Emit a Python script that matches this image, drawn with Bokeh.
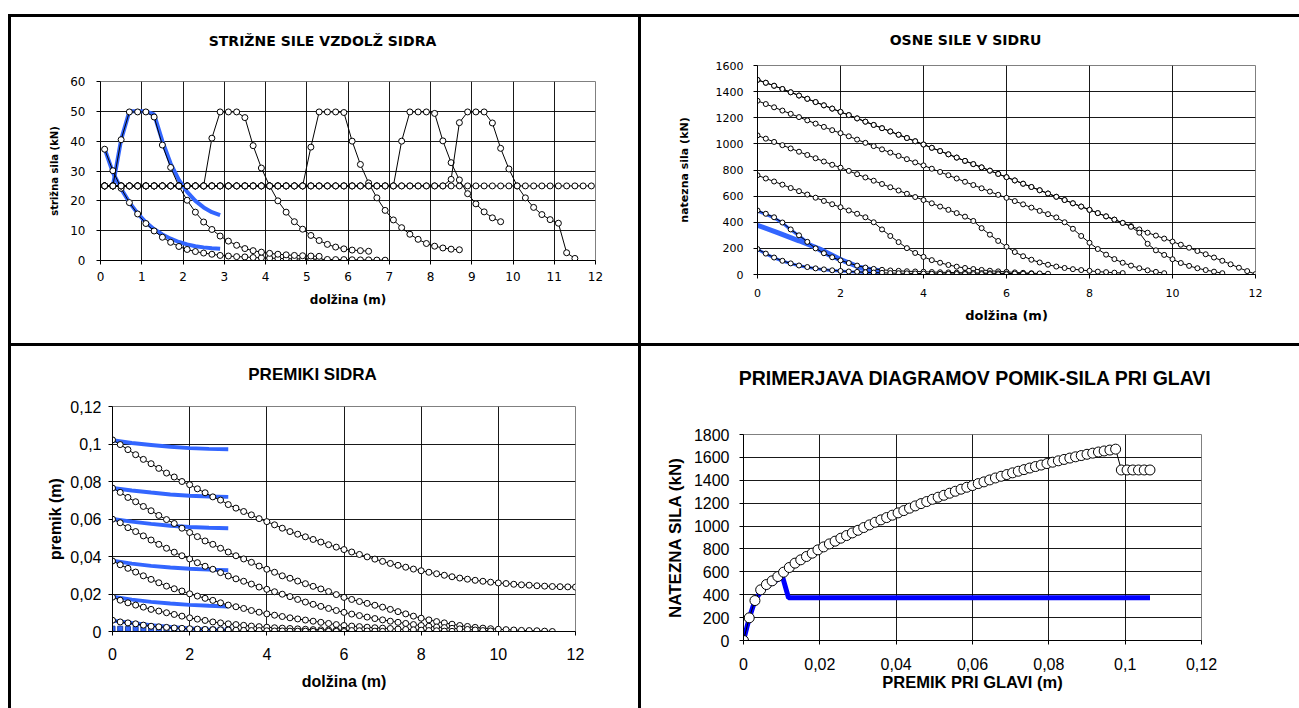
from bokeh.plotting import figure
from bokeh.layouts import row, column
from bokeh.models import Spacer, FixedTicker, Label, Range1d
from bokeh.embed import file_html
from bokeh.resources import INLINE

# ------------------------------------------------------------------ data
STATIONS_A = [0.1, 0.3, 0.5, 0.7, 0.9, 1.1, 1.3, 1.5, 1.7, 1.9, 2.1, 2.3, 2.5, 2.7, 2.9,
              3.1, 3.3, 3.5, 3.7, 3.9, 4.1, 4.3, 4.5, 4.7, 4.9, 5.1, 5.3, 5.5, 5.7, 5.9,
              6.1, 6.3, 6.5, 6.7, 6.9, 7.1, 7.3, 7.5, 7.7, 7.9, 8.1, 8.3, 8.5, 8.7, 8.9,
              9.1, 9.3, 9.5, 9.7, 9.9, 10.1, 10.3, 10.5, 10.7, 10.9, 11.1, 11.3, 11.5, 11.7, 11.9]
STATIONS_B = [0.0, 0.2, 0.4, 0.6, 0.8, 1.0, 1.2, 1.4, 1.6, 1.8, 2.0, 2.2, 2.4, 2.6, 2.8,
              3.0, 3.2, 3.4, 3.6, 3.8, 4.0, 4.2, 4.4, 4.6, 4.8, 5.0, 5.2, 5.4, 5.6, 5.8,
              6.0, 6.2, 6.4, 6.6, 6.8, 7.0, 7.2, 7.4, 7.6, 7.8, 8.0, 8.2, 8.4, 8.6, 8.8,
              9.0, 9.2, 9.4, 9.6, 9.8, 10.0, 10.2, 10.4, 10.6, 10.8, 11.0, 11.2, 11.4, 11.6,
              11.8, 12.0]

# panel 1: shear forces (kN)
SHEAR_A = [37.3, 30.1, 24.2, 19.4, 15.6, 12.4, 9.9, 7.8, 6.1, 4.7, 3.7, 3.0, 2.5, 2.1, 1.7,
           1.5, 1.3, 1.2, 1.0, 0.9, 0.8, 0.7, 0.6, 0.55, 0.5, 0.45, 0.4, 0.35, 0.3, 0.3,
           0.25, 0.2, 0.2, 0.15, 0.1]
SHEAR_1 = [25.0, 25.0, 40.5, 49.8, 49.8, 49.8, 48.1, 38.7, 31.2, 24.9, 20.2, 16.2, 12.9, 10.4,
           8.2, 6.5, 5.1, 4.0, 3.3, 2.8, 2.4, 2.1, 1.9, 1.7, 1.6, 1.5, 1.4]
SHEAR_2 = [25.0] * 13 + [41.0, 49.8, 49.8, 49.8, 47.9, 38.5, 31.0, 25.0, 20.0, 16.2, 13.0, 10.5,
                         8.4, 6.7, 5.4, 4.5, 3.9, 3.5, 3.3, 3.1]
SHEAR_3 = [25.0] * 25 + [38.0, 49.8, 49.8, 49.8, 49.6, 40.0, 32.2, 26.0, 21.0, 16.8, 13.6, 11.0,
                         8.8, 7.1, 5.7, 4.8, 4.2, 3.8, 3.6]
SHEAR_4 = [25.0] * 36 + [40.0, 49.8, 49.8, 49.8, 49.3, 40.1, 32.8, 27.0, 22.4, 19.0, 16.3, 14.3, 13.0]
SHEAR_5 = [25.0] * 42 + [27.2, 46.2, 49.8, 49.8, 49.8, 46.1, 37.6, 30.7, 25.0, 21.0, 17.8, 15.4,
                         13.7, 12.5, 2.6, 0.7]
SHEAR_FLAT = [25.0] * 60
BLUE_SHEAR_1 = [37.5, 29.5, 24.0, 19.5, 15.8, 12.8, 10.5, 8.7, 7.3, 6.2, 5.4, 4.8, 4.4, 4.1, 3.9]
BLUE_SHEAR_2 = [25.0, 40.5, 50.0, 50.0, 50.0, 49.0, 40.0, 32.5, 27.0, 23.0, 20.0, 17.8, 16.2, 15.2]

# panel 2: axial forces (kN)
AXIAL_0 = [1490, 1468, 1445, 1420, 1395, 1370, 1345, 1320, 1295, 1270, 1245, 1220, 1195, 1170,
           1145, 1120, 1095, 1070, 1045, 1020, 995, 970, 945, 920, 895, 870, 845, 820, 795, 770,
           745, 720, 695, 670, 645, 620, 595, 570, 545, 520, 495, 470, 445, 420, 395, 370, 345,
           320, 298, 275, 252, 228, 205, 180, 155, 130, 105, 78, 52, 26, 3]
AXIAL_1 = AXIAL_0[:45] + [365, 320, 235, 185, 150, 117, 88, 66, 48, 34, 22, 10]
AXIAL_2 = [1330, 1305, 1280, 1255, 1230, 1205, 1180, 1155, 1130, 1105, 1082, 1058, 1033, 1008,
           983, 958, 933, 908, 883, 858, 835, 810, 785, 760, 735, 710, 685, 660, 635, 610, 587,
           562, 537, 512, 487, 462, 437, 400, 350, 295, 243, 195, 152, 118, 90, 68, 48, 32, 20, 10]
AXIAL_3 = [1065, 1040, 1015, 990, 965, 940, 915, 890, 865, 840, 818, 793, 768, 743, 718, 693,
           668, 643, 618, 593, 570, 545, 520, 495, 470, 443, 410, 355, 305, 257, 212, 172, 140,
           113, 92, 75, 61, 50, 41, 34, 28, 22, 18, 14, 11]
AXIAL_4 = [760, 735, 712, 688, 662, 638, 612, 588, 563, 538, 515, 490, 465, 438, 400, 345, 295,
           248, 202, 165, 135, 110, 90, 73, 60, 50, 42, 35, 29, 24, 20, 16, 13, 10, 8, 6]
AXIAL_5 = [490, 465, 438, 398, 345, 300, 250, 200, 163, 132, 108, 88, 68, 53, 43, 36, 31, 28, 25,
           23, 21, 19, 17, 16, 14, 13, 12, 11, 10, 9, 8, 7, 6, 6]
AXIAL_6 = [195, 160, 130, 105, 85, 69, 57, 47, 39, 32, 27, 23, 20, 17, 15, 13, 11, 10, 9, 8, 7,
           6, 5, 5, 4, 4, 3, 3, 3, 2, 2]
BLUE_X_HALF = [0.0, 0.5, 1.0, 1.5, 2.0, 2.5, 3.0]
BLUE_AXIAL_1 = [377, 318, 258, 195, 115, 50, 2]
BLUE_AXIAL_2 = [485, 460, 433, 395, 342, 297, 248, 199, 162, 131, 107, 86, 67, 52, 42, 35]
BLUE_AXIAL_3 = [193, 158, 128, 103, 83, 67, 55, 45, 37, 31, 26, 22, 19, 16, 14, 12]

# panel 3: displacements (m)
DISP_1 = [0.1022, 0.0997, 0.0970, 0.0943, 0.0918, 0.0895, 0.0870, 0.0845, 0.0824, 0.0800,
          0.0783, 0.0761, 0.0740, 0.0718, 0.0701, 0.0677, 0.0658, 0.0640, 0.0622, 0.0602,
          0.0586, 0.0569, 0.0551, 0.0533, 0.0519, 0.0505, 0.0491, 0.0477, 0.0463, 0.0450,
          0.0437, 0.0424, 0.0411, 0.0398, 0.0386, 0.0374, 0.0363, 0.0353, 0.0343, 0.0333,
          0.0324, 0.0316, 0.0308, 0.0300, 0.0292, 0.0285, 0.0279, 0.0273, 0.0268, 0.0263,
          0.0259, 0.0256, 0.0252, 0.0249, 0.0247, 0.0244, 0.0242, 0.0240, 0.0239, 0.0238, 0.0237]
DISP_2 = [0.0765, 0.0742, 0.0715, 0.0692, 0.0667, 0.0644, 0.0619, 0.0597, 0.0576, 0.0551,
          0.0528, 0.0506, 0.0483, 0.0465, 0.0444, 0.0424, 0.0404, 0.0387, 0.0369, 0.0349,
          0.0332, 0.0316, 0.0297, 0.0284, 0.0269, 0.0255, 0.0241, 0.0227, 0.0213, 0.0197,
          0.0182, 0.0171, 0.0160, 0.0150, 0.0140, 0.0130, 0.0118, 0.0106, 0.0094, 0.0082,
          0.0071, 0.0062, 0.0053, 0.0046, 0.0039, 0.0032, 0.0027, 0.0022, 0.0018, 0.0015,
          0.0012, 0.0010, 0.0008, 0.0006, 0.0005, 0.0004, 0.0002, 0.0000]
DISP_3 = [0.0599, 0.0580, 0.0554, 0.0533, 0.0510, 0.0488, 0.0465, 0.0444, 0.0423, 0.0404,
          0.0387, 0.0367, 0.0348, 0.0332, 0.0314, 0.0296, 0.0281, 0.0268, 0.0253, 0.0237,
          0.0225, 0.0212, 0.0199, 0.0186, 0.0171, 0.0157, 0.0145, 0.0134, 0.0123, 0.0112,
          0.0102, 0.0093, 0.0085, 0.0077, 0.0069, 0.0062, 0.0055, 0.0049, 0.0043, 0.0037,
          0.0032, 0.0028, 0.0024, 0.0021, 0.0017, 0.0014, 0.0011, 0.0008, 0.0005, 0.0003]
DISP_4 = [0.0376, 0.0356, 0.0337, 0.0317, 0.0297, 0.0278, 0.0260, 0.0242, 0.0228, 0.0216,
          0.0201, 0.0189, 0.0177, 0.0166, 0.0153, 0.0141, 0.0132, 0.0123, 0.0112, 0.0103,
          0.0094, 0.0087, 0.0080, 0.0073, 0.0067, 0.0061, 0.0055, 0.0049, 0.0043, 0.0037,
          0.0032, 0.0029, 0.0026, 0.0023, 0.0020, 0.0018, 0.0016, 0.0013, 0.0011, 0.0009,
          0.0007, 0.0005, 0.0004, 0.0002, 0.0001]
DISP_5 = [0.0183, 0.0167, 0.0153, 0.0141, 0.0130, 0.0118, 0.0109, 0.0100, 0.0091, 0.0082,
          0.0073, 0.0066, 0.0059, 0.0051, 0.0046, 0.0041, 0.0037, 0.0033, 0.0029, 0.0026,
          0.0023, 0.0020, 0.0018, 0.0016, 0.0014, 0.0012, 0.0010, 0.0009, 0.0008, 0.0007,
          0.0006, 0.0005, 0.0004, 0.0003, 0.0002, 0.0001]
DISP_6 = [0.0060, 0.0051, 0.0046, 0.0041, 0.0034, 0.0028, 0.0025, 0.0022, 0.0019, 0.0017,
          0.0015, 0.0013, 0.0011, 0.0010, 0.0009, 0.0008, 0.0007, 0.0006, 0.0005, 0.0005,
          0.0004, 0.0003, 0.0003, 0.0002, 0.0002, 0.0002, 0.0001, 0.0001, 0.0001, 0.0001, 0.0000]
BLUE_DISP = [
    [0.1020, 0.1005, 0.0995, 0.0985, 0.0978, 0.0974, 0.0972],
    [0.0765, 0.0752, 0.0741, 0.0731, 0.0724, 0.0720, 0.0718],
    [0.0600, 0.0586, 0.0574, 0.0564, 0.0557, 0.0553, 0.0551],
    [0.0378, 0.0362, 0.0350, 0.0341, 0.0335, 0.0330, 0.0327],
    [0.0186, 0.0170, 0.0158, 0.0149, 0.0142, 0.0137, 0.0133],
    [0.0058, 0.0045, 0.0033, 0.0024, 0.0016, 0.0010, 0.0006],
]
BLUE_SQUARES = [0.0015, 0.0015, 0.0014, 0.0014, 0.0013, 0.0013, 0.0012, 0.0012, 0.0011, 0.0011,
                0.0011, 0.0010, 0.0010, 0.0010, 0.0010, 0.0010]

# panel 4: head displacement (m) vs tensile force (kN)
HEAD_DISP = [0.0, 0.0015, 0.003, 0.0045, 0.006, 0.0075, 0.009, 0.0105, 0.012, 0.0135, 0.015,
             0.0165, 0.018, 0.0195, 0.021, 0.0225, 0.024, 0.0255, 0.027, 0.0285, 0.03, 0.0315,
             0.033, 0.0345, 0.036, 0.0375, 0.039, 0.0405, 0.042, 0.0435, 0.045, 0.0465, 0.048,
             0.0495, 0.051, 0.0525, 0.054, 0.0555, 0.057, 0.0585, 0.06, 0.0615, 0.063, 0.0645,
             0.066, 0.0675, 0.069, 0.0705, 0.072, 0.0735, 0.075, 0.0765, 0.078, 0.0795, 0.081,
             0.0825, 0.084, 0.0855, 0.087, 0.0885, 0.09, 0.0915, 0.093, 0.0945, 0.096, 0.0975,
             0.099, 0.1005, 0.102, 0.1035, 0.105, 0.1065]
HEAD_FORCE = [0, 198, 349, 443, 489, 521, 559, 597, 638, 676, 705, 734, 763, 792, 818, 844, 868,
              894, 917, 940, 963, 987, 1010, 1033, 1054, 1074, 1095, 1115, 1135, 1156, 1176, 1196,
              1214, 1234, 1252, 1269, 1287, 1304, 1322, 1339, 1354, 1371, 1386, 1403, 1420, 1435,
              1450, 1465, 1479, 1493, 1507, 1520, 1533, 1546, 1558, 1570, 1582, 1594, 1605, 1616,
              1627, 1637, 1647, 1656, 1664, 1672, 1490, 1490, 1490, 1490, 1490, 1490]
BLUE_HEAD_X = [0.0, 0.0015, 0.003, 0.0045, 0.006, 0.0075, 0.009, 0.0102, 0.0118, 0.1065]
BLUE_HEAD_F = [0, 195, 350, 425, 470, 505, 535, 560, 373, 373]

# ticks
P1_XTICKS = list(range(0, 13))
P1_YTICKS = [0, 10, 20, 30, 40, 50, 60]
P2_XTICKS = [0, 2, 4, 6, 8, 10, 12]
P2_YTICKS = [0, 200, 400, 600, 800, 1000, 1200, 1400, 1600]
P3_XTICKS = [0, 2, 4, 6, 8, 10, 12]
P3_YTICKS = [0, 0.02, 0.04, 0.06, 0.08, 0.1, 0.12]
P3_YLABELS = ["0", "0,02", "0,04", "0,06", "0,08", "0,1", "0,12"]
P4_XTICKS = [0, 0.02, 0.04, 0.06, 0.08, 0.1, 0.12]
P4_XLABELS = ["0", "0,02", "0,04", "0,06", "0,08", "0,1", "0,12"]
P4_YTICKS = [0, 200, 400, 600, 800, 1000, 1200, 1400, 1600, 1800]

BLUE = "#3366ff"
DEJAVU = "DejaVu Sans"
ARIAL = "Liberation Sans"


def make_fig(w, h, xr, yr, ml, mr, mt, mb, xticks, yticks):
    p = figure(width=w, height=h, x_range=Range1d(*xr), y_range=Range1d(*yr),
               output_backend="svg", toolbar_location=None, tools="",
               min_border_left=ml, min_border_right=mr, min_border_top=mt,
               min_border_bottom=mb)
    p.background_fill_color = "white"
    p.border_fill_color = "white"
    p.outline_line_color = "#808080"
    p.outline_line_width = 1
    p.xaxis.ticker = FixedTicker(ticks=xticks)
    p.yaxis.ticker = FixedTicker(ticks=yticks)
    p.xgrid.ticker = FixedTicker(ticks=xticks[1:-1])
    p.ygrid.ticker = FixedTicker(ticks=yticks[1:-1])
    for g in (p.xgrid[0], p.ygrid[0]):
        g.grid_line_color = "black"
        g.grid_line_width = 1
        g.grid_line_alpha = 0.9
    for ax in (p.xaxis[0], p.yaxis[0]):
        ax.axis_line_color = "black"
        ax.axis_line_width = 1
        ax.major_tick_line_color = "black"
        ax.major_tick_out = 4
        ax.major_tick_in = 0
        ax.minor_tick_line_color = None
        ax.major_label_text_color = "black"
        ax.axis_label_text_color = "black"
        ax.axis_label_text_font_style = "bold"
    return p


def title_fig(w, h, cx, cy, text, font, size):
    """A strip above a chart holding its title; its frame is the whole strip (pixel units)."""
    t = figure(width=w, height=h, x_range=Range1d(0, w), y_range=Range1d(0, h),
               x_axis_type=None, y_axis_type=None, output_backend="svg",
               toolbar_location=None, tools="", min_border=0,
               min_border_left=0, min_border_right=0, min_border_top=0, min_border_bottom=0)
    t.outline_line_color = None
    t.background_fill_color = "white"
    t.border_fill_color = "white"
    t.add_layout(Label(x=cx, y=h - cy, text=text, text_align="center",
                       text_baseline="middle", text_font=font, text_font_size=size,
                       text_font_style="bold", text_color="black"))
    return t


def black_series(p, xs, ys, size):
    p.line(xs, ys, line_color="black", line_width=1)
    p.scatter(xs, ys, marker="circle", size=size, fill_color="white",
              line_color="black", line_width=1)


# ---------------------------------------------------------------- panel 1
t1 = title_fig(627, 50, 311, 23, "STRIŽNE SILE VZDOLŽ SIDRA", DEJAVU, "14px")
p1 = make_fig(627, 276, (0, 12), (0, 60), 89, 43, 14, 83, P1_XTICKS, P1_YTICKS)
p1.line(STATIONS_A[:len(BLUE_SHEAR_1)], BLUE_SHEAR_1, line_color=BLUE, line_width=4)
p1.line(STATIONS_A[1:1 + len(BLUE_SHEAR_2)], BLUE_SHEAR_2, line_color=BLUE, line_width=4)
for ser in (SHEAR_FLAT, SHEAR_A, SHEAR_1, SHEAR_2, SHEAR_3, SHEAR_4, SHEAR_5):
    black_series(p1, STATIONS_A[:len(ser)], ser, 6)
p1.xaxis.axis_label = "dolžina (m)"
p1.yaxis.axis_label = "strižna sila (kN)"
for ax in (p1.xaxis[0], p1.yaxis[0]):
    ax.major_label_text_font = DEJAVU
    ax.major_label_text_font_size = "12px"
    ax.axis_label_text_font = DEJAVU
p1.xaxis.axis_label_text_font_size = "12px"
p1.yaxis.axis_label_text_font_size = "10px"
p1.xaxis.major_label_standoff = 7
p1.xaxis.axis_label_standoff = 9
p1.yaxis.major_label_standoff = 11
p1.yaxis.axis_label_standoff = 7

# ---------------------------------------------------------------- panel 2
t2 = title_fig(658, 40, 324, 22, "OSNE SILE V SIDRU", DEJAVU, "14px")
p2 = make_fig(658, 286, (0, 12), (0, 1600), 116, 44, 8, 69, P2_XTICKS, P2_YTICKS)
p2.line(BLUE_X_HALF, BLUE_AXIAL_1, line_color=BLUE, line_width=5)
p2.line(STATIONS_B[:len(BLUE_AXIAL_2)], BLUE_AXIAL_2, line_color=BLUE, line_width=3)
p2.line(STATIONS_B[:len(BLUE_AXIAL_3)], BLUE_AXIAL_3, line_color=BLUE, line_width=3)
for ser in (AXIAL_0, AXIAL_1, AXIAL_2, AXIAL_3, AXIAL_4, AXIAL_5, AXIAL_6):
    black_series(p2, STATIONS_B[:len(ser)], ser, 5)
p2.xaxis.axis_label = "dolžina (m)"
p2.yaxis.axis_label = "natezna sila (kN)"
for ax in (p2.xaxis[0], p2.yaxis[0]):
    ax.major_label_text_font = DEJAVU
    ax.major_label_text_font_size = "11px"
    ax.axis_label_text_font = DEJAVU
p2.xaxis.axis_label_text_font_size = "13px"
p2.yaxis.axis_label_text_font_size = "11px"
p2.xaxis.major_label_standoff = 10
p2.xaxis.axis_label_standoff = 8
p2.yaxis.major_label_standoff = 10
p2.yaxis.axis_label_standoff = 22

# ---------------------------------------------------------------- panel 3
t3 = title_fig(627, 50, 301, 28, "PREMIKI SIDRA", ARIAL, "17px")
p3 = make_fig(627, 312, (0, 12), (0, 0.12), 101, 63, 10, 77, P3_XTICKS, P3_YTICKS)
for ser in BLUE_DISP:
    p3.line(BLUE_X_HALF, ser, line_color=BLUE, line_width=4)
p3.scatter(STATIONS_B[:len(BLUE_SQUARES)], BLUE_SQUARES, marker="square", size=5,
           fill_color=BLUE, line_color="#1a3fa0", line_width=1)
for ser in (DISP_1, DISP_2, DISP_3, DISP_4, DISP_5, DISP_6):
    black_series(p3, STATIONS_B[:len(ser)], ser, 6)
p3.yaxis.major_label_overrides = dict(zip(P3_YTICKS, P3_YLABELS))
p3.xaxis.axis_label = "dolžina (m)"
p3.yaxis.axis_label = "premik (m)"
for ax in (p3.xaxis[0], p3.yaxis[0]):
    ax.major_label_text_font = ARIAL
    ax.major_label_text_font_size = "16px"
    ax.axis_label_text_font = ARIAL
    ax.axis_label_text_font_size = "16px"
p3.xaxis.major_label_standoff = 12
p3.xaxis.axis_label_standoff = 10
p3.yaxis.major_label_standoff = 7
p3.yaxis.axis_label_standoff = 3

# ---------------------------------------------------------------- panel 4
t4 = title_fig(658, 70, 334, 31, "PRIMERJAVA DIAGRAMOV POMIK-SILA PRI GLAVI", ARIAL, "19.5px")
p4 = make_fig(658, 292, (0, 0.12), (0, 1800), 102, 98, 18, 68, P4_XTICKS, P4_YTICKS)
p4.line(BLUE_HEAD_X, BLUE_HEAD_F, line_color="#0000ff", line_width=5)
black_series(p4, HEAD_DISP, HEAD_FORCE, 10)
p4.xaxis.major_label_overrides = dict(zip(P4_XTICKS, P4_XLABELS))
p4.xaxis.axis_label = "PREMIK PRI GLAVI (m)"
p4.yaxis.axis_label = "NATEZNA SILA (kN)"
for ax in (p4.xaxis[0], p4.yaxis[0]):
    ax.major_label_text_font = ARIAL
    ax.major_label_text_font_size = "16px"
    ax.axis_label_text_font = ARIAL
p4.xaxis.axis_label_text_font_size = "16.5px"
p4.yaxis.axis_label_text_font_size = "17px"
p4.xaxis.major_label_standoff = 13
p4.xaxis.axis_label_standoff = 0
p4.yaxis.major_label_standoff = 10
p4.yaxis.axis_label_standoff = 6


# ---------------------------------------------------------------- frame / layout
def bar(w, h):
    return Spacer(width=w, height=h, styles={"background-color": "#000000"})


def gap(w, h):
    return Spacer(width=w, height=h)


def cell(t, p):
    return column(column(t), column(p))


layout = column(
    gap(1299, 14),
    row(gap(8, 3), bar(1291, 3)),
    row(gap(8, 326), bar(3, 326), cell(t1, p1), bar(3, 326), cell(t2, p2)),
    row(gap(8, 3), bar(1291, 3)),
    row(gap(8, 362), bar(3, 362), cell(t3, p3), bar(3, 362), cell(t4, p4)),
)

open("out.html", "w").write(file_html(layout, INLINE))
